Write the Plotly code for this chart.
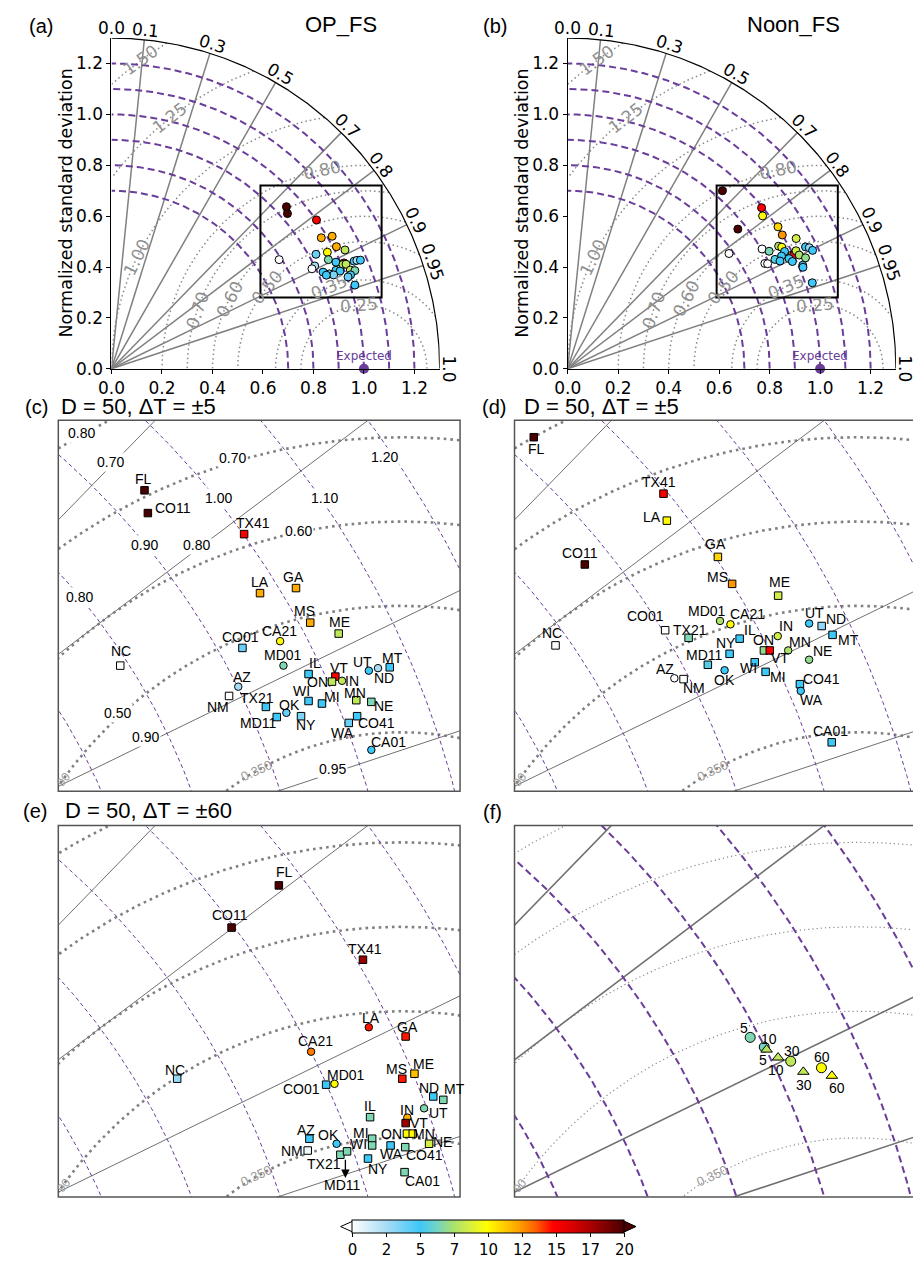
import numpy as np
import plotly.graph_objects as go

W, H, OFF = 913, 1266, 0


def PX(v):
    return (v - OFF) / W


def PY(v):
    return 1 - (v - OFF) / H


# ---------------------------------------------------------------- data
# Taylor-diagram coordinates: x = std*corr, y = std*sqrt(1-corr^2) (normalized std)
# (a)/(c) OP_FS, D = 50, dT = +-5
op5_sta = ["FL", "CO11", "TX41", "LA", "GA", "MS", "ME", "CA21", "CO01", "MD01", "NC",
           "IL", "VT", "ON", "IN", "UT", "ND", "MT", "AZ", "NM", "TX21", "WI", "MI",
           "MN", "NE", "OK", "NY", "MD11", "CO41", "WA", "CA01"]
op5_x = [0.693, 0.697, 0.812, 0.831, 0.874, 0.891, 0.925, 0.855, 0.810, 0.859, 0.664,
         0.889, 0.921, 0.917, 0.929, 0.961, 0.972, 0.986, 0.805, 0.794, 0.838, 0.889, 0.905,
         0.946, 0.964, 0.8625, 0.880, 0.851, 0.947, 0.937, 0.964]
op5_y = [0.637, 0.610, 0.585, 0.515, 0.521, 0.480, 0.467, 0.458, 0.450, 0.429, 0.429,
         0.419, 0.416, 0.410, 0.411, 0.423, 0.426, 0.427, 0.404, 0.393, 0.380, 0.387, 0.384,
         0.388, 0.386, 0.373, 0.369, 0.368, 0.369, 0.361, 0.329]
op5_val = [20, 20, 15, 12, 12, 12, 8, 10, 4, 6.5, 0,
           5, 15, 8, 8, 5, 2.5, 5, 2.5, 0, 5, 5, 5,
           8, 6.5, 4, 3.5, 5, 5, 4, 5]
op5_sym = ["s", "s", "s", "s", "s", "s", "s", "c", "s", "c", "s",
           "s", "s", "s", "c", "c", "c", "s", "c", "s", "s", "s", "s",
           "s", "s", "c", "s", "s", "s", "s", "c"]

# (b)/(d) Noon_FS, D = 50, dT = +-5
noon5_sta = ["FL", "TX41", "LA", "GA", "MS", "ME", "CO11", "CO01", "MD01", "CA21", "TX21",
             "IL", "NY", "ON", "VT", "IN", "MN", "NE", "UT", "ND", "MT", "MD11", "WI", "MI",
             "OK", "AZ", "NM", "CO41", "WA", "CA01", "NC"]
noon5_x = [0.613, 0.768, 0.772, 0.833, 0.850, 0.905, 0.674, 0.770, 0.8355, 0.848, 0.798,
           0.859, 0.847, 0.888, 0.895, 0.9045, 0.917, 0.942, 0.942, 0.957, 0.970, 0.821, 0.877, 0.890,
           0.841, 0.781, 0.792, 0.931, 0.932, 0.969, 0.639]
noon5_y = [0.700, 0.633, 0.601, 0.558, 0.526, 0.512, 0.549, 0.471, 0.482, 0.478, 0.462,
           0.461, 0.443, 0.447, 0.447, 0.464, 0.447, 0.436, 0.479, 0.476, 0.4655, 0.430, 0.433, 0.4216,
           0.4235, 0.414, 0.413, 0.407, 0.399, 0.338, 0.453]
noon5_val = [20, 15, 10, 11, 12.5, 8.5, 20, 0, 7.5, 10, 6.5,
             5, 5, 7, 15, 8.5, 7.5, 7, 5, 3, 5, 5.5, 5, 5,
             5, 0, 0, 5, 5, 5, 0]
noon5_sym = ["s", "s", "s", "s", "s", "s", "s", "s", "c", "c", "s",
             "s", "s", "s", "s", "c", "c", "c", "c", "s", "s", "s", "s", "s",
             "c", "c", "s", "s", "c", "s", "s"]

# (e) OP_FS, D = 50, dT = +-60
op60_sta = ["FL", "CO11", "TX41", "LA", "GA", "CA21", "NC", "MD01", "CO01", "MS", "ME",
            "ND", "MT", "UT", "IL", "IN", "VT", "ON", "MN", "NE", "MI", "WI", "OK", "AZ",
            "NM", "TX21", "MD11", "WA", "CO41", "NY", "CA01"]
op60_x = [0.8535, 0.797, 0.954, 0.961, 1.005, 0.892, 0.732, 0.920, 0.910, 1.001, 1.0155,
          1.038, 1.050, 1.027, 0.9625, 1.007, 1.005, 1.0065, 1.0135, 1.033, 0.965, 0.965, 0.9225, 0.890,
          0.888, 0.927, 0.935, 0.987, 1.0045, 0.960, 1.0037]
op60_y = [0.649, 0.599, 0.561, 0.481, 0.470, 0.452, 0.420, 0.414, 0.413, 0.420, 0.426,
          0.399, 0.395, 0.385, 0.3745, 0.374, 0.3675, 0.355, 0.355, 0.343, 0.349, 0.341, 0.343, 0.349,
          0.335, 0.330, 0.334, 0.341, 0.339, 0.3255, 0.3094]
op60_val = [20, 20, 18, 14.5, 14.5, 13, 3, 10, 5, 14.5, 11.5,
            5, 6.5, 6.5, 6.5, 12, 18, 10, 10, 8.5, 6.5, 6.5, 5, 5,
            0.5, 6.5, 6.5, 5, 6.5, 5, 6.5]
op60_sym = ["s", "s", "s", "c", "s", "c", "s", "c", "s", "s", "s",
            "s", "s", "c", "s", "c", "s", "s", "s", "s", "s", "s", "c", "s",
            "s", "s", "s", "s", "s", "s", "s"]

# (f) dT = 5, 10, 30, 60 (circles and triangles)
dt_labels = ["5", "10", "30", "60"]
dtc_x = [0.8716, 0.8884, 0.920, 0.9567]
dtc_y = [0.469, 0.4576, 0.4408, 0.433]
dtc_val = [6.5, 6.2, 8, 10]
dtt_x = [0.8912, 0.9049, 0.9351, 0.9692]
dtt_y = [0.4545, 0.4451, 0.4282, 0.4235]
dtt_val = [7.8, 8, 8, 10]

# diagram levels
std_levels = [0.7, 0.8, 0.9, 1.0, 1.1, 1.2]
rms_levels = [0.25, 0.35, 0.5, 0.6, 0.7, 0.8, 1.0, 1.25, 1.5]
corr_lines = [0.1, 0.3, 0.5, 0.7, 0.8, 0.9, 0.95]
corr_ticks = [0.0, 0.1, 0.3, 0.5, 0.7, 0.8, 0.9, 0.95, 1.0]
corr_tick_text = ["0.0", "0.1", "0.3", "0.5", "0.7", "0.8", "0.9", "0.95", "1.0"]
axis_ticks = [0.0, 0.2, 0.4, 0.6, 0.8, 1.0, 1.2]
# contour labels of panel (c): text, x, y
c_clab_text = ["0.80", "0.70", "0.70", "1.00", "1.10", "1.20", "0.90", "0.80", "0.60",
               "0.80", "0.50", "0.90", "0.95"]
c_clab_x = [0.6175, 0.652, 0.7978, 0.781, 0.908, 0.980, 0.693, 0.7547, 0.8767,
            0.6155, 0.6602, 0.6939, 0.9182]
c_clab_y = [0.7047, 0.670, 0.6749, 0.6282, 0.628, 0.6765, 0.5722, 0.5722, 0.5882,
            0.511, 0.3722, 0.3439, 0.3059]
cb_ticks = [0, 2.5, 5, 7.5, 10, 12.5, 15, 17.5, 20]
cb_text = ["0", "2", "5", "7", "10", "12", "15", "17", "20"]

# ---------------------------------------------------------------- styling / positions
RMAX = 1.3
PXU = 256.4  # pixels per unit in the full diagrams
ZOOM = dict(x0=0.59, x1=1.07, y0=0.28, y1=0.72)
# angle (deg) around the reference point where RMS labels sit in (a)/(b)
rms_label_phi = {0.25: 94.5, 0.35: 113, 0.5: 140, 0.6: 152.6, 0.7: 160.6,
                 0.8: 102, 1.0: 154, 1.25: 128, 1.5: 126.1}
# label offsets (dx, dy) in pixels, screen direction
op5_off = [(-1, -11.3), (24.7, -5), (8.7, -11.3), (0, -11), (-2.3, -10.7), (-5.7, -11.3),
           (1, -11.7), (-0.7, -9.7), (-2.3, -11.3), (-0.7, -10.3), (0.7, -14.3), (6.7, -11.3),
           (4, -9), (-14, 0), (10, 0), (-6, -8.3), (5.7, 9.7), (3, -9.7), (3.3, -9.3),
           (-11.3, 11), (-9, -9), (-6.7, -10), (10.3, -6.3), (-1, -6.7), (12.3, 4.3),
           (3.3, -8), (5, 9), (-18.7, 6.3), (19, 7), (-6.7, 9.7), (16.7, -7.7)]
noon5_off = [(2.3, 11.7), (-4, -11.7), (-15, -4), (-2.7, -12.7), (-14.3, -6.7), (1.3, -13.3),
             (-5, -11.7), (-20, -14.7), (-12.7, -10.3), (16.7, -10), (1.3, -8.3), (10, -9),
             (-3.3, -10.7), (-0.3, -10.7), (10.7, 7.7), (8.3, -10.3), (12.3, -8), (13.3, -8.7),
             (5.7, -10.3), (14.7, -7), (15.7, 5), (-3, -9.3), (-6.7, 5.7), (12.7, 5.3),
             (-0.3, 9.3), (-9.3, -9.7), (10, 9), (21.7, -5), (11, 9.3), (-1.7, -11.3), (-3.3, -12)]
op60_off = [(5.3, -13.3), (-2, -12.3), (1.7, -10.7), (2.3, -9.3), (2.3, -9.7), (4, -11),
            (-2, -9), (11.7, -8.7), (-24.3, 4.3), (-6, -9.7), (9.3, -9.7), (-4.3, -8.3),
            (10.7, -11), (14, 4.3), (0, -10.7), (0, -7.7), (13, 0), (-15.7, 0), (11.7, 0),
            (13.3, -1.7), (-10.7, -5.7), (-14, -1), (-8.3, -8.3), (-3.3, -9), (-15.7, 0.7),
            (-16.7, 9.3), (-5, 33.3), (0.7, 9), (19.3, 7.7), (10, 10.3), (18.3, 9)]
dtc_off = [(-6, -9.3), (4.7, -8.3), (1, -10), (1, -10.3)]
dtt_off = [(-3.3, 10.7), (-2, 12.7), (1, 12.7), (5.3, 12)]

PURPLE = "#6a3d9a"
CS = [[0.0, "#ffffff"], [0.125, "#a8dcf4"], [0.25, "#3ec8f8"], [0.31, "#70d4c8"],
      [0.37, "#a8e070"], [0.435, "#d8f040"], [0.495, "#ffff00"], [0.555, "#ffd000"],
      [0.615, "#ffa000"], [0.675, "#ff6000"], [0.74, "#ff0000"], [0.8, "#e00000"],
      [0.87, "#b00000"], [1.0, "#4a0000"]]
SANS = "Liberation Sans"
DJV = "DejaVu Sans"

traces = []
annotations = []
shapes = []

STY_FULL = dict(dot_c="#8a8a8a", dot_w=1.5, dot_dash="1.5px,3px", cor_c="#808080", cor_w=1.5,
                std_w=2, std_dash="7px,4px")
STY_ZOOM = dict(dot_c="#808080", dot_w=2.6, dot_dash="2.6px,4px", cor_c="#707070", cor_w=1,
                std_w=1, std_dash="4px,3px")
STY_F = dict(dot_c="#8a8a8a", dot_w=1.2, dot_dash="1.2px,3px", cor_c="#707070", cor_w=1.6,
             std_w=2, std_dash="7px,4px")


def line_tr(x, y, xa, ya, color, width, dash=None):
    ln = dict(color=color, width=width)
    if dash:
        ln["dash"] = dash
    return go.Scatter(x=x, y=y, xaxis=xa, yaxis=ya, mode="lines", line=ln,
                      hoverinfo="skip", showlegend=False)


def add_grid(xa, ya, full, sty):
    ph = np.linspace(0, np.pi, 1441)
    th = np.linspace(0, np.pi / 2, 361)
    for R in rms_levels:
        xs = 1 + R * np.cos(ph)
        ys = R * np.sin(ph)
        if full:
            m = (xs >= 0) & (np.hypot(xs, ys) <= RMAX)
            xs, ys = xs[m], ys[m]
        traces.append(line_tr(xs, ys, xa, ya, sty["dot_c"], sty["dot_w"], sty["dot_dash"]))
    for c in corr_lines:
        t = np.arccos(c)
        traces.append(line_tr([0, RMAX * np.cos(t)], [0, RMAX * np.sin(t)], xa, ya,
                              sty["cor_c"], sty["cor_w"]))
    for r in std_levels:
        traces.append(line_tr(r * np.cos(th), r * np.sin(th), xa, ya, PURPLE,
                              sty["std_w"], sty["std_dash"]))
    if full:
        traces.append(line_tr(RMAX * np.cos(th), RMAX * np.sin(th), xa, ya, "black", 1.2))


def sym_name(s):
    if s == "c":
        return "circle"
    if s == "t":
        return "triangle-up"
    return "square"


def add_points(xa, ya, xs, ys, vals, syms, size):
    traces.append(go.Scatter(
        x=xs, y=ys, xaxis=xa, yaxis=ya, mode="markers", hoverinfo="skip", showlegend=False,
        marker=dict(color=vals, coloraxis="coloraxis", size=size,
                    symbol=[sym_name(s) for s in syms],
                    line=dict(color="black", width=1))))


def add_labels(xa, ya, xs, ys, names, offs, size=14):
    for x, y, t, (dx, dy) in zip(xs, ys, names, offs):
        annotations.append(dict(x=x, y=y, xref=xa, yref=ya, text=t, showarrow=False,
                                xshift=dx, yshift=-dy, xanchor="center", yanchor="middle",
                                font=dict(family=SANS, size=size, color="black")))


# ----------------------------------------------------------- full diagrams (a), (b)
OY = 371.7
full_panels = [("x", "y", op5_x, op5_y, op5_val, "OP_FS", "(a)", 99, 332.3, 27.3),
               ("x2", "y2", noon5_x, noon5_y, noon5_val, "Noon_FS", "(b)", 562.3, 791.7, 488.3)]
for xa, ya, xs, ys, vals, title, tag, ox, tx, lx in full_panels:
    add_grid(xa, ya, True, STY_FULL)
    add_points(xa, ya, xs, ys, vals, ["c"] * len(xs), 8)
    traces.append(go.Scatter(x=[1.0], y=[0.0], xaxis=xa, yaxis=ya, mode="markers",
                             marker=dict(color=PURPLE, size=10), cliponaxis=False,
                             hoverinfo="skip", showlegend=False))
    shapes.append(dict(type="rect", xref=xa, yref=ya, x0=ZOOM["x0"], x1=ZOOM["x1"],
                       y0=ZOOM["y0"], y1=ZOOM["y1"], line=dict(color="black", width=2)))
    annotations.append(dict(x=1.0, y=0.05, xref=xa, yref=ya, text="Expected", showarrow=False,
                            font=dict(family=DJV, size=12, color=PURPLE)))
    # correlation tick labels outside the arc (paper coords: outside the axis ranges)
    for c, txt in zip(corr_ticks, corr_tick_text):
        t = np.arccos(c)
        r = 1.338
        annotations.append(dict(x=PX(ox + r * np.cos(t) * PXU), y=PY(OY - r * np.sin(t) * PXU),
                                xref="paper", yref="paper", text=txt,
                                showarrow=False, textangle=90 - np.degrees(t),
                                xanchor="center", yanchor="middle",
                                font=dict(family=DJV, size=17, color="black")))
    for R in rms_levels:
        p = np.radians(rms_label_phi[R])
        annotations.append(dict(x=1 + R * np.cos(p), y=R * np.sin(p), xref=xa, yref=ya,
                                text=f"{R:.2f}", showarrow=False,
                                textangle=90 - rms_label_phi[R],
                                xanchor="center", yanchor="middle",
                                font=dict(family=DJV, size=17, color="#909090")))
    annotations.append(dict(x=PX(ox - 46), y=PY(205), xref="paper", yref="paper",
                            text="Normalized standard deviation", textangle=-90, showarrow=False,
                            xanchor="center", yanchor="middle",
                            font=dict(family=DJV, size=17.5, color="black")))
    annotations.append(dict(x=PX(tx), y=PY(25), xref="paper", yref="paper", text=title,
                            showarrow=False, xanchor="center", yanchor="middle",
                            font=dict(family=SANS, size=22, color="black")))
    annotations.append(dict(x=PX(lx), y=PY(26), xref="paper", yref="paper", text=tag,
                            showarrow=False, xanchor="center", yanchor="middle",
                            font=dict(family=SANS, size=20, color="black")))

# ----------------------------------------------------------- zoomed panels (c)-(f)
zoom_panels = [("x3", "y3", STY_ZOOM), ("x4", "y4", STY_ZOOM), ("x5", "y5", STY_ZOOM),
               ("x6", "y6", STY_F)]
for xa, ya, sty in zoom_panels:
    add_grid(xa, ya, False, sty)
    annotations.append(dict(x=0.827, y=0.305, xref=xa, yref=ya, text="0.350", showarrow=False,
                            textangle=-25, font=dict(family=SANS, size=13, color="#9a9a9a")))
    annotations.append(dict(x=0.597, y=0.294, xref=xa, yref=ya, text="90", showarrow=False,
                            textangle=-50, font=dict(family=SANS, size=12, color="#9a9a9a")))

add_points("x3", "y3", op5_x, op5_y, op5_val, op5_sym, 7.5)
add_labels("x3", "y3", op5_x, op5_y, op5_sta, op5_off)
for t, x, y in zip(c_clab_text, c_clab_x, c_clab_y):
    annotations.append(dict(x=x, y=y, xref="x3", yref="y3", text=t, showarrow=False,
                            bgcolor="white", borderpad=1,
                            font=dict(family=SANS, size=14, color="black")))

add_points("x4", "y4", noon5_x, noon5_y, noon5_val, noon5_sym, 7.5)
add_labels("x4", "y4", noon5_x, noon5_y, noon5_sta, noon5_off)

add_points("x5", "y5", op60_x, op60_y, op60_val, op60_sym, 7.5)
add_labels("x5", "y5", op60_x, op60_y, op60_sta, op60_off)
i_md = op60_sta.index("MD11")
annotations.append(dict(x=op60_x[i_md] - 0.002, y=0.3025, xref="x5", yref="y5",
                        ax=op60_x[i_md] - 0.002, ay=0.326, axref="x5", ayref="y5", text="",
                        showarrow=True, arrowhead=2, arrowsize=1.3, arrowwidth=1.3,
                        arrowcolor="black"))

add_points("x6", "y6", dtc_x, dtc_y, dtc_val, ["c"] * 4, 10)
add_points("x6", "y6", dtt_x, dtt_y, dtt_val, ["t"] * 4, 10)
add_labels("x6", "y6", dtc_x, dtc_y, dt_labels, dtc_off)
add_labels("x6", "y6", dtt_x, dtt_y, dt_labels, dtt_off)

titles = [("(c)", "D = 50, ΔT = ±5", 23.3, 46, 410), ("(d)", "D = 50, ΔT = ±5", 487.3, 516, 410),
          ("(e)", "D = 50, ΔT = ±60", 21.7, 50, 817), ("(f)", "", 485.7, 516, 818)]
for tag, txt, tx, lx, yy in titles:
    annotations.append(dict(x=PX(tx), y=PY(yy), xref="paper", yref="paper", text=tag,
                            showarrow=False, xanchor="center", yanchor="middle",
                            font=dict(family=SANS, size=20, color="black")))
    if txt:
        annotations.append(dict(x=PX(lx), y=PY(yy), xref="paper", yref="paper", text=txt,
                                showarrow=False, xanchor="left", yanchor="middle",
                                font=dict(family=SANS, size=22, color="black")))

# frames of zoom panels
for xa, ya, x1 in [("x3", "y3", 1), ("x4", "y4", 1.02), ("x5", "y5", 1), ("x6", "y6", 1.02)]:
    shapes.append(dict(type="rect", xref=f"{xa} domain", yref=f"{ya} domain", x0=0, x1=x1,
                       y0=0, y1=1, line=dict(color="#555555", width=1.5)))

# colorbar extension triangles
cb_l, cb_r, cb_t, cb_b = 346, 617.7, 1230, 1242.7
shapes.append(dict(type="path", xref="paper", yref="paper",
                   path=f"M {PX(cb_l)} {PY(cb_t)} L {PX(cb_l - 14.3)} {PY((cb_t + cb_b) / 2)} "
                        f"L {PX(cb_l)} {PY(cb_b)} Z",
                   fillcolor="white", line=dict(color="black", width=1)))
shapes.append(dict(type="path", xref="paper", yref="paper",
                   path=f"M {PX(cb_r)} {PY(cb_t)} L {PX(cb_r + 14)} {PY((cb_t + cb_b) / 2)} "
                        f"L {PX(cb_r)} {PY(cb_b)} Z",
                   fillcolor="#4a0000", line=dict(color="black", width=1)))

# ----------------------------------------------------------- layout
fig = go.Figure(data=traces)


def full_axes(x0px):
    return dict(domain=[PX(x0px), PX(x0px + RMAX * PXU)], range=[0, RMAX],
                tickmode="array", tickvals=axis_ticks,
                ticktext=[f"{v:.1f}" for v in axis_ticks],
                showline=True, linecolor="black", linewidth=1.2, ticks="outside", ticklen=4,
                tickcolor="black", showgrid=False, zeroline=False,
                tickfont=dict(family=DJV, size=17, color="black"))


lay = dict(width=W, height=H, margin=dict(l=0, r=0, t=0, b=0), paper_bgcolor="white",
           plot_bgcolor="rgba(0,0,0,0)", hovermode=False, font=dict(family=DJV),
           annotations=annotations, shapes=shapes,
           coloraxis=dict(cmin=0, cmax=20, colorscale=CS,
                          colorbar=dict(orientation="h", lenmode="pixels", len=cb_r - cb_l,
                                        thicknessmode="pixels", thickness=cb_b - cb_t,
                                        x=PX((cb_l + cb_r) / 2), xanchor="center",
                                        y=PY(cb_t), yanchor="top", xpad=0, ypad=0,
                                        outlinewidth=1, outlinecolor="black",
                                        tickmode="array", tickvals=cb_ticks, ticktext=cb_text,
                                        ticks="outside", ticklen=4, tickcolor="black",
                                        tickfont=dict(family=DJV, size=15, color="black"))))
ya_dom = [PY(OY), PY(OY - RMAX * PXU)]
xa1 = full_axes(99)
ya1 = dict(xa1)
ya1["domain"] = ya_dom
xa1["anchor"] = "y"
ya1["anchor"] = "x"
xa2 = full_axes(562.3)
ya2 = dict(xa2)
ya2["domain"] = ya_dom
xa2["anchor"] = "y2"
ya2["anchor"] = "x2"
lay["xaxis"], lay["yaxis"], lay["xaxis2"], lay["yaxis2"] = xa1, ya1, xa2, ya2

zx_c = [PX(45), PX(453)]
zx_d = [PX(508.3), 1.0]
zr_d = [ZOOM["x0"], ZOOM["x0"] + (913 - 508.3) / 850]
zy_top = [PY(797.5), PY(423.7)]
zy_bot = [PY(1206.5), PY(832)]
for i, (dx, rx, dy) in zip([3, 4, 5, 6], [(zx_c, [ZOOM["x0"], ZOOM["x1"]], zy_top),
                                          (zx_d, zr_d, zy_top),
                                          (zx_c, [ZOOM["x0"], ZOOM["x1"]], zy_bot),
                                          (zx_d, zr_d, zy_bot)]):
    lay[f"xaxis{i}"] = dict(domain=dx, range=rx, visible=False, anchor=f"y{i}")
    lay[f"yaxis{i}"] = dict(domain=dy, range=[ZOOM["y0"], ZOOM["y1"]], visible=False,
                            anchor=f"x{i}")

fig.update_layout(**lay)
# remove the default page margin so the figure fills the 913x1266 window exactly
fig.write_html("out.html", config={"displayModeBar": False},
               post_script="document.body.style.margin='0px';"
                           "document.documentElement.style.overflow='hidden';")
